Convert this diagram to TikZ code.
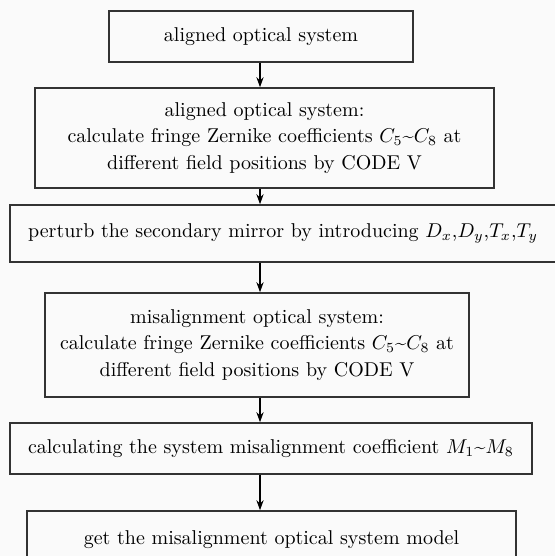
\documentclass[tikz,border=0pt]{standalone}
\usetikzlibrary{arrows.meta}

\begin{document}
\begin{tikzpicture}[x=0.5pt,y=-0.5pt,
    box/.style={draw=black!80,line width=0.8pt,align=center,inner sep=0pt,
      font=\fontsize{10}{13.2}\selectfont},
    arr/.style={-{Stealth[length=5pt,width=3.6pt]},line width=0.6pt}]
  \clip (0,0) rectangle (555,556);
  \fill[black!2] (0,0) rectangle (555,556);

  \coordinate (ax) at (260,0);

  \node[box,minimum width=152pt,minimum height=25.5pt] (a1) at (261,36.5) {aligned optical system};
  \node[box,minimum width=229.5pt,minimum height=50pt] (a2) at (264.5,138) {aligned optical system:\\calculate fringe Zernike coefficients $C_5$\textasciitilde$C_8$ at\\different field positions by CODE V};
  \node[box,minimum width=273pt,minimum height=28.5pt] (a3) at (283,233.5) {perturb the secondary mirror by introducing $D_x$,$D_y$,$T_x$,$T_y$};
  \node[box,minimum width=212pt,minimum height=52pt] (a4) at (257,345) {misalignment optical system:\\calculate fringe Zernike coefficients $C_5$\textasciitilde$C_8$ at\\different field positions by CODE V};
  \node[box,minimum width=261pt,minimum height=25.5pt] (a5) at (271,448.5) {calculating the system misalignment coefficient $M_1$\textasciitilde$M_8$};
  \node[box,minimum width=244.5pt,minimum height=29pt] (a6) at (271.5,540) {get the misalignment optical system model};

  % arrows all run down the same vertical line x = 260
  \draw[arr] (a1.south -| ax) to (a2.north -| ax);
  \draw[arr] (a2.south -| ax) to (a3.north -| ax);
  \draw[arr] (a3.south -| ax) to (a4.north -| ax);
  \draw[arr] (a4.south -| ax) to (a5.north -| ax);
  \draw[arr] (a5.south -| ax) to (a6.north -| ax);
\end{tikzpicture}
\end{document}
